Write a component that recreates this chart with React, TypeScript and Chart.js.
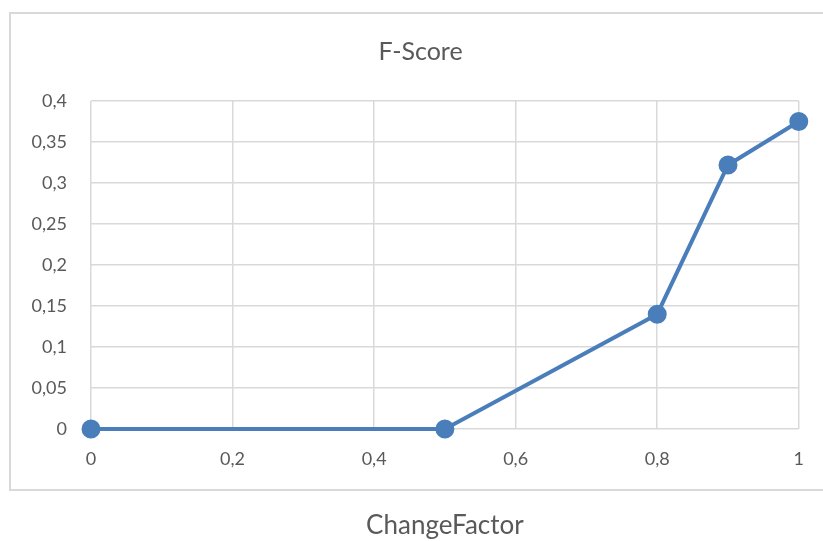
import React, { useEffect, useRef } from "react";
import { Chart, registerables } from "chart.js";

Chart.register(...registerables);

const xValues = [0, 0.5, 0.8, 0.9, 1];
const fScores = [0, 0, 0.14, 0.322, 0.375];
const chartTitle = "F-Score";
const xAxisTitle = "ChangeFactor";

const FONT = "Lato, 'Open Sans', sans-serif";
const TEXT = "#595959";
const GRID = "#d9d9d9";
const LINE = "#4a7ebb";
const TITLE_SIZE = 25;

const fmt = (v: number) => String(Math.round(v * 100) / 100).replace(".", ",");

const boxPlugin = {
  id: "outerBox",
  beforeDraw(chart: any) {
    const { ctx } = chart;
    ctx.save();
    ctx.fillStyle = "#ffffff";
    ctx.fillRect(0, 0, chart.width, chart.height);
    ctx.strokeStyle = GRID;
    ctx.lineWidth = 2;
    ctx.strokeRect(10, 13, chart.width + 10, 477);
    ctx.restore();
  },
  afterDraw(chart: any) {
    const { ctx } = chart;
    const t = chart.titleBlock;
    if (!t) return;
    ctx.save();
    ctx.fillStyle = TEXT;
    ctx.font = `normal ${TITLE_SIZE}px ${FONT}`;
    ctx.textAlign = "center";
    ctx.textBaseline = "middle";
    ctx.fillText(chartTitle, 420.5, t.top + 37 + (TITLE_SIZE * 1.2) / 2);
    ctx.restore();
  },
};

export default function App() {
  const ref = useRef<HTMLCanvasElement | null>(null);
  useEffect(() => {
    if (!ref.current) return;
    const chart = new Chart(ref.current, {
      type: "line",
      data: {
        datasets: [
          {
            label: chartTitle,
            data: xValues.map((x, i) => ({ x, y: fScores[i] })),
            borderColor: LINE,
            backgroundColor: LINE,
            borderWidth: 4,
            pointRadius: 7.5,
            pointHoverRadius: 7.5,
            pointBackgroundColor: LINE,
            pointBorderColor: LINE,
            tension: 0,
            clip: false,
          },
        ],
      },
      options: {
        responsive: false,
        animation: false,
        layout: { padding: { left: 0, right: 24, top: 0, bottom: 0 } },
        plugins: {
          legend: { display: false },
          tooltip: { enabled: false },
          title: {
            display: true,
            text: chartTitle,
            color: "rgba(0,0,0,0)",
            font: { family: FONT, size: TITLE_SIZE, weight: "normal" },
            padding: { top: 37, bottom: 34 },
          },
        },
        scales: {
          x: {
            type: "linear",
            min: 0,
            max: 1,
            afterFit(scale: any) {
              scale.height = 112;
            },
            ticks: {
              stepSize: 0.2,
              color: TEXT,
              font: { family: FONT, size: 18 },
              padding: 19,
              maxRotation: 0,
              callback: (v: any) => fmt(Number(v)),
            },
            grid: { color: GRID, lineWidth: 1.5, drawTicks: false },
            border: { display: false },
            title: {
              display: true,
              text: xAxisTitle,
              color: TEXT,
              font: { family: FONT, size: 26 },
              padding: { top: 0, bottom: 0 },
            },
          },
          y: {
            type: "linear",
            min: 0,
            max: 0.4,
            afterFit(scale: any) {
              scale.width = 91;
            },
            ticks: {
              stepSize: 0.05,
              color: TEXT,
              font: { family: FONT, size: 18 },
              padding: 24,
              callback: (v: any) => fmt(Number(v)),
            },
            grid: { color: GRID, lineWidth: 1.5, drawTicks: false },
            border: { display: false },
          },
        },
      },
      plugins: [boxPlugin],
    });
    return () => chart.destroy();
  }, []);
  return (
    <div style={{ position: "absolute", left: 0, top: 0, width: 823, height: 541 }}>
      <canvas ref={ref} width={823} height={541} style={{ display: "block" }} />
    </div>
  );
}
